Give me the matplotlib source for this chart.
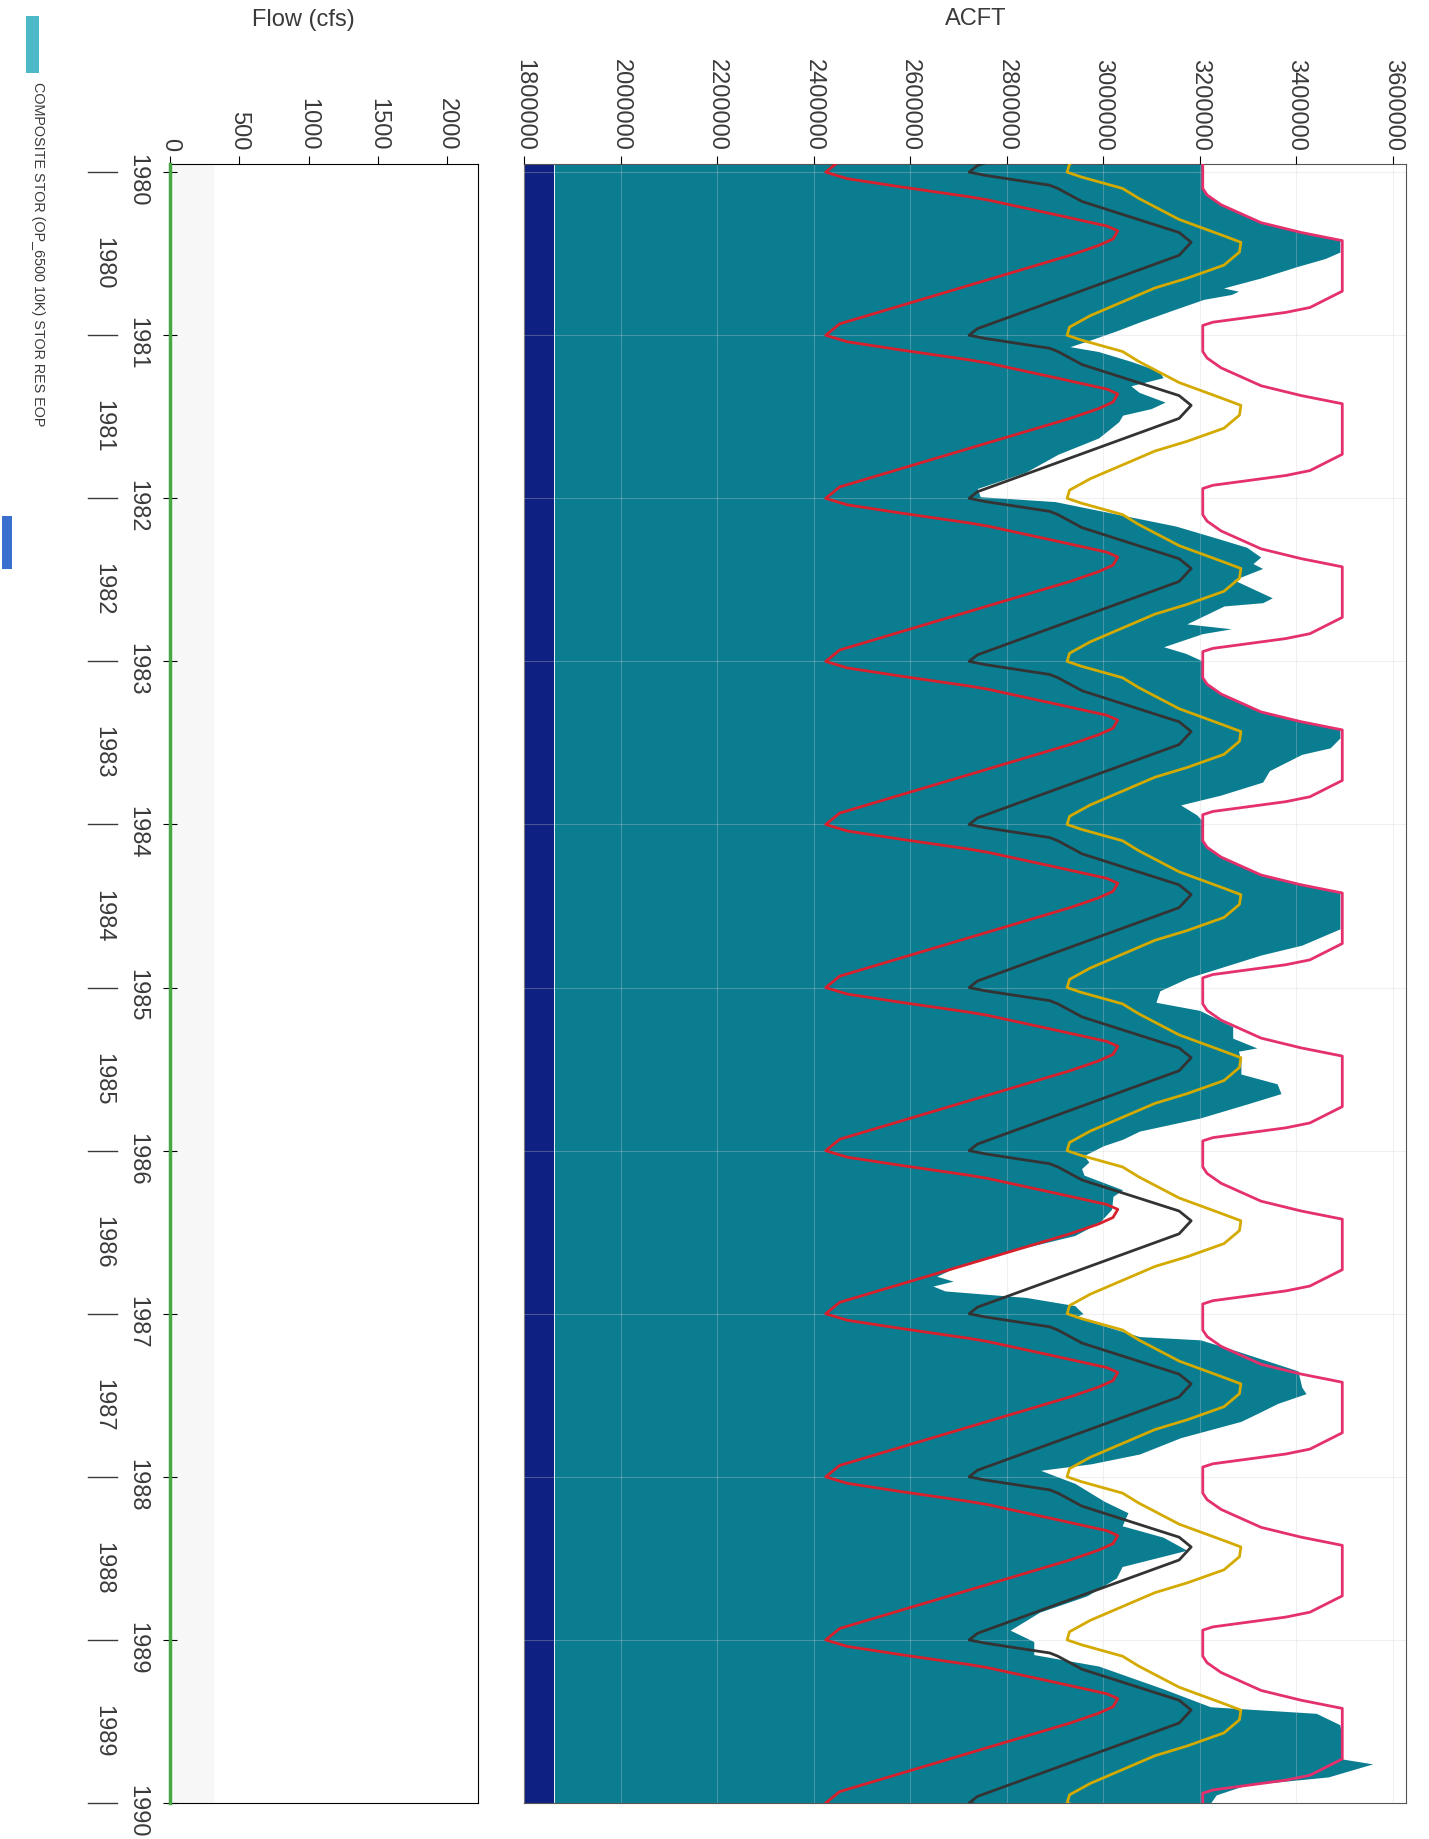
import numpy as np
import matplotlib
matplotlib.use("Agg")
import matplotlib.pyplot as plt
import matplotlib.transforms as mtransforms
from matplotlib.patches import Rectangle

plt.rcParams['font.family'] = ['Liberation Sans', 'DejaVu Sans']

# ---- data ----
# annual rule curves: fraction of year -> storage (acft)
red_t = [0.0, 0.04, 0.09, 0.15, 0.17, 0.26, 0.33, 0.36, 0.41, 0.45, 0.51, 0.93]
red_v = [2425000, 2470000, 2580000, 2720000, 2760000, 2900000, 3007000, 3030000,
         3020000, 2990000, 2931000, 2454000]
black_t = [0.0, 0.02, 0.08, 0.10, 0.18, 0.37, 0.43, 0.51, 0.96]
black_v = [2722000, 2756000, 2889000, 2906000, 2956000, 3157000, 3182000, 3157000, 2739000]
gold_t = [0.0, 0.03, 0.10, 0.16, 0.29, 0.39, 0.43, 0.49, 0.57, 0.65, 0.71, 0.88, 0.95]
gold_v = [2925000, 2955000, 3040000, 3073000, 3157000, 3249000, 3285000, 3282000,
          3250000, 3174000, 3107000, 2973000, 2930000]
pink_t = [0.10, 0.14, 0.20, 0.31, 0.37, 0.42, 0.73, 0.83, 0.86, 0.92, 0.94]
pink_v = [3206000, 3215000, 3244000, 3327000, 3410000, 3495000, 3495000, 3428000,
          3378000, 3227000, 3206000]
rule_years = list(range(1979, 1991))

# composite storage (acft) by decimal year
stor_t = [1979.95, 1980.00, 1980.10, 1980.14, 1980.20, 1980.31, 1980.37, 1980.42, 1980.49,
          1980.53, 1980.58, 1980.65, 1980.71, 1980.73, 1980.75, 1980.78, 1980.85, 1980.92,
          1980.97, 1981.02, 1981.07, 1981.10, 1981.16, 1981.22, 1981.26, 1981.31, 1981.35,
          1981.41, 1981.45, 1981.49, 1981.53, 1981.59, 1981.63, 1981.73, 1981.84, 1981.94,
          1981.99, 1982.02, 1982.11, 1982.17, 1982.24, 1982.30, 1982.36, 1982.40, 1982.43,
          1982.50, 1982.61, 1982.64, 1982.66, 1982.77, 1982.80, 1982.83, 1982.91, 1982.95,
          1982.99, 1983.00, 1983.10, 1983.14, 1983.20, 1983.31, 1983.37, 1983.42, 1983.47,
          1983.53, 1983.57, 1983.67, 1983.74, 1983.82, 1983.88, 1983.94, 1983.98, 1984.10,
          1984.14, 1984.20, 1984.31, 1984.37, 1984.42, 1984.64, 1984.74, 1984.80, 1984.94,
          1985.02, 1985.09, 1985.14, 1985.24, 1985.31, 1985.37, 1985.39, 1985.45, 1985.53,
          1985.59, 1985.65, 1985.71, 1985.80, 1985.88, 1985.93, 1985.97, 1986.03, 1986.07,
          1986.11, 1986.15, 1986.24, 1986.28, 1986.36, 1986.44, 1986.52, 1986.60, 1986.70,
          1986.77, 1986.80, 1986.83, 1986.86, 1986.90, 1986.95, 1987.00, 1987.02, 1987.14,
          1987.16, 1987.22, 1987.35, 1987.45, 1987.49, 1987.55, 1987.60, 1987.66, 1987.76,
          1987.86, 1987.92, 1987.96, 1988.04, 1988.15, 1988.22, 1988.30, 1988.37, 1988.45,
          1988.55, 1988.62, 1988.73, 1988.83, 1988.94, 1989.01, 1989.09, 1989.16, 1989.30,
          1989.41, 1989.45, 1989.52, 1989.63, 1989.73, 1989.76, 1989.84, 1989.89, 1989.95,
          1990.00]
stor_v = [3206000, 3206000, 3206000, 3215000, 3244000, 3327000, 3410000, 3490000, 3490000,
          3459000, 3400000, 3325000, 3249000, 3280000, 3265000, 3208000, 3140000, 3074000,
          3030000, 2982000, 2931000, 2990000, 3057000, 3115000, 3124000, 3057000, 3074000,
          3128000, 3099000, 3040000, 3032000, 3007000, 2990000, 2906000, 2839000, 2739000,
          2745000, 2900000, 3050000, 3150000, 3230000, 3297000, 3326000, 3310000, 3330000,
          3270000, 3350000, 3330000, 3250000, 3173000, 3265000, 3205000, 3125000, 3170000,
          3200000, 3206000, 3206000, 3215000, 3244000, 3327000, 3410000, 3490000, 3490000,
          3470000, 3411000, 3344000, 3330000, 3243000, 3160000, 3193000, 3206000, 3206000,
          3215000, 3244000, 3327000, 3410000, 3490000, 3490000, 3411000, 3327000, 3176000,
          3117000, 3109000, 3200000, 3268000, 3268000, 3318000, 3280000, 3285000, 3285000,
          3360000, 3368000, 3302000, 3200000, 3075000, 3040000, 3000000, 2960000, 2970000,
          2955000, 2960000, 3040000, 3020000, 3017000, 2992000, 2941000, 2830000, 2705000,
          2655000, 2689000, 2647000, 2672000, 2840000, 2941000, 2958000, 2941000, 3075000,
          3201000, 3268000, 3403000, 3411000, 3420000, 3361000, 3327000, 3285000, 3160000,
          3075000, 2975000, 2870000, 2941000, 3002000, 3051000, 3039000, 3124000, 3173000,
          3039000, 3027000, 2966000, 2868000, 2807000, 2856000, 2856000, 2990000, 3124000,
          3222000, 3441000, 3490000, 3495000, 3495000, 3558000, 3466000, 3295000, 3234000,
          3222000]

inactive_t = [1979.95, 1990.0]
inactive_v = [1863000, 1863000]

flow_t = [1979.95, 1990.0]
flow_cfs = [0, 0]

acft_ticks = [1800000, 2000000, 2200000, 2400000, 2600000, 2800000, 3000000,
              3200000, 3400000, 3600000]
flow_ticks = [0, 500, 1000, 1500, 2000]
years = list(range(1980, 1991))

TEAL = '#0a7d91'
NAVY = '#0e2082'
RED = '#d8202c'
DARK = '#333333'
GOLD = '#d4aa00'
PINK = '#e4306c'
GREEN = '#45a845'
TXT = '#3a3a3a'


def tile(t_knots, v_knots):
    tt, vv = [], []
    for y in rule_years:
        tt += [y + t for t in t_knots]
        vv += list(v_knots)
    return np.array(tt), np.array(vv)


W, H = 1429, 1839
fig = plt.figure(figsize=(W / 100, H / 100), dpi=100)


def fx(px):
    return px / W


def fy(py):
    return 1 - py / H


top_px, bot_px = 164, 1803
ax = fig.add_axes([fx(524), fy(bot_px), fx(1406) - fx(524), (bot_px - top_px) / H])
axf = fig.add_axes([fx(170), fy(bot_px), fx(477.5) - fx(170), (bot_px - top_px) / H], sharey=ax)

# ---- main storage panel ----
ax.fill_betweenx(inactive_t, 1800000, inactive_v, color=NAVY, lw=0, zorder=1)
ax.fill_betweenx(stor_t, inactive_v[0], stor_v, color=TEAL, lw=0, zorder=1)

for kt, kv, col in [(pink_t, pink_v, PINK), (red_t, red_v, RED),
                    (black_t, black_v, DARK), (gold_t, gold_v, GOLD)]:
    t, v = tile(kt, kv)
    ax.plot(v, t, color=col, lw=2.0, zorder=3)

ax.set_xlim(1800000, 3627000)
ax.set_ylim(1990.0, 1979.95)
ax.set_xticks(acft_ticks)
ax.set_xticklabels([str(v) for v in acft_ticks])
ax.set_yticks(years)
ax.tick_params(axis='x', top=True, labeltop=True, bottom=False, labelbottom=False,
               labelrotation=-90, labelsize=17, labelcolor=TXT, length=6, direction='out')
ax.tick_params(axis='y', left=False, labelleft=False, right=False)
ax.grid(True, color='#d0d0d0', lw=0.8, alpha=0.3)
ax.set_axisbelow(False)
for s in ax.spines.values():
    s.set_color('#555555')

# ---- flow panel ----
axf.axvspan(0, 320, color='#f7f7f7', lw=0, zorder=0)
axf.plot(flow_cfs, flow_t, color=GREEN, lw=2.5, zorder=3, clip_on=False)
axf.set_xlim(0, 2220)
axf.set_xticks(flow_ticks)
axf.set_xticklabels([str(v) for v in flow_ticks])
axf.tick_params(axis='x', top=True, labeltop=True, bottom=False, labelbottom=False,
                labelrotation=-90, labelsize=17, labelcolor=TXT, length=6, direction='out')
axf.tick_params(axis='y', left=True, labelleft=False, direction='inout', length=10)

trans = mtransforms.blended_transform_factory(axf.transAxes, axf.transData)
for yr in years:
    axf.text(-0.106, yr + 0.05, str(yr), transform=trans, rotation=-90,
             ha='center', va='center', fontsize=17, color=TXT, clip_on=False)
    axf.plot([-0.267, -0.172], [yr, yr], transform=trans, color=TXT, lw=1.0, clip_on=False)
for yr in years[:-1]:
    axf.text(-0.218, yr + 0.56, str(yr), transform=trans, rotation=-90,
             ha='center', va='center', fontsize=17, color=TXT, clip_on=False)

# ---- titles and legend ----
fig.text(fx(303), fy(20), 'Flow (cfs)', ha='center', va='center', fontsize=17, color=TXT)
fig.text(fx(976), fy(19), 'ACFT', ha='center', va='center', fontsize=17, color=TXT)

fig.patches.append(Rectangle((fx(26), fy(73)), fx(13), 57 / H, transform=fig.transFigure,
                             color='#4db8c8', lw=0))
fig.text(fx(38), fy(82), 'COMPOSITE STOR (OP_6500 10K) STOR RES EOP', rotation=-90,
         ha='center', va='top', fontsize=10.4, color=TXT)
fig.patches.append(Rectangle((fx(2), fy(569)), fx(10), 53 / H, transform=fig.transFigure,
                             color='#3a6fd0', lw=0))

fig.savefig('out.png', dpi=100)
